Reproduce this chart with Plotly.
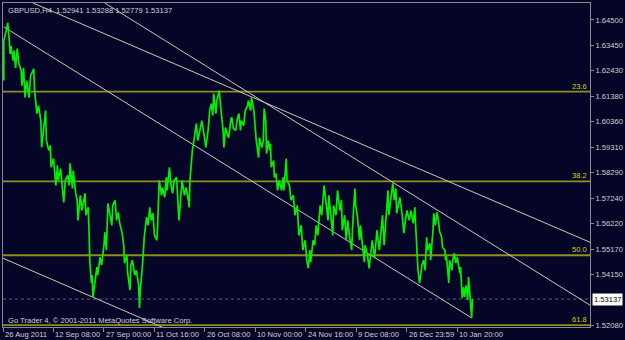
import plotly.graph_objects as go

# ---------------- data ----------------
symbol_title = "GBPUSD,H4  1.52941 1.53288 1.52779 1.53137"
copyright_text = "Go Trader 4, \u00a9 2001-2011 MetaQuotes Software Corp."

# bar index (H4 bars) and price path (highs / lows zig-zag)
bars = [1, 1, 4, 6, 8, 9, 10, 13, 14, 16, 18, 20, 23, 24, 26, 28, 30, 33, 35, 39, 40, 41, 43, 45, 48, 49, 51, 54, 55, 58,
        60, 61, 64, 67, 69, 70, 73, 75, 77, 79, 82, 84, 85, 88, 89, 92, 94, 95, 98, 100, 104, 105, 108, 109, 110, 112, 113, 114, 117, 119,
        120, 123, 125, 128, 129, 131, 133, 136, 138, 139, 142, 144, 146, 148, 151, 153, 154, 157, 158, 161, 162, 164, 167, 169, 172, 173, 174, 177, 179, 182,
        184, 186, 188, 190, 192, 195, 196, 198, 201, 202, 205, 207, 208, 211, 213, 215, 217, 220, 221, 223, 225, 227, 230, 232, 235, 236, 237, 240, 242, 245,
        247, 250, 252, 255, 257, 260, 262, 264, 266, 267, 270, 271, 274, 276, 279, 280, 282, 285, 286, 289, 290, 292, 295, 297, 299, 301, 302, 305, 307, 310,
        311, 314, 315, 318, 320, 321, 324, 325, 328, 330, 331, 333, 334, 336, 338, 339, 340, 343, 344, 346, 348, 350, 353, 355, 356, 359, 360, 363, 365, 368,
        370, 373, 375, 378, 380, 383, 385, 387, 389, 390, 393, 395, 397, 399, 402, 404, 407, 409, 412, 413, 415, 418, 419, 422, 424, 427, 429, 430, 433, 435,
        437, 439, 442, 443, 446, 447, 449, 452, 453, 456, 458, 459, 462, 464, 466, 468, 471, 472, 474, 477, 479, 481, 483, 486, 488, 489, 492, 494, 496, 498,
        499, 502, 503, 506, 508, 510, 512, 515, 517, 520, 522, 523, 525, 526, 528, 531, 533, 535, 537, 538, 541, 542, 545, 546, 548, 550, 552, 553, 556, 557,
        560, 561, 562, 563, 565, 566, 569, 570, 572, 574, 576, 577, 579, 580, 581, 582, 584, 585, 587, 589, 590, 591, 592, 594, 595]
prices = [1.6203, 1.6365, 1.6406, 1.6438, 1.6365, 1.6312, 1.6345, 1.6284, 1.6325, 1.6255, 1.6333, 1.6276, 1.6243, 1.6182, 1.6255, 1.6134, 1.6203, 1.6134, 1.6223, 1.6251,
          1.6162, 1.6122, 1.6069, 1.6101, 1.6040, 1.5931, 1.6000, 1.6081, 1.5959, 1.5919,
          1.5939, 1.5850, 1.5886, 1.5776, 1.5858, 1.5797, 1.5845, 1.5756, 1.5707, 1.5797, 1.5817, 1.5776, 1.5866, 1.5764, 1.5837, 1.5748, 1.5716, 1.5634, 1.5736, 1.5675,
          1.5744, 1.5655, 1.5687, 1.5594, 1.5472, 1.5379, 1.5411, 1.5322, 1.5391, 1.5444,
          1.5411, 1.5484, 1.5452, 1.5533, 1.5586, 1.5513, 1.5703, 1.5647, 1.5614, 1.5695, 1.5716, 1.5634, 1.5667, 1.5622, 1.5582, 1.5533, 1.5460, 1.5492, 1.5419, 1.5350,
          1.5452, 1.5472, 1.5411, 1.5431, 1.5370, 1.5277, 1.5350, 1.5460, 1.5565, 1.5647,
          1.5614, 1.5687, 1.5634, 1.5663, 1.5573, 1.5553, 1.5614, 1.5797, 1.5736, 1.5768, 1.5728, 1.5809, 1.5756, 1.5850, 1.5776, 1.5744, 1.5797, 1.5809, 1.5736, 1.5634,
          1.5716, 1.5797, 1.5736, 1.5768, 1.5716, 1.5687, 1.5797, 1.5919, 1.5959, 1.6028,
          1.5959, 1.6008, 1.6040, 1.5979, 1.5931, 1.6000, 1.6081, 1.6109, 1.6061, 1.6150, 1.6069, 1.6122, 1.6162, 1.6093, 1.6000, 1.5931, 1.6012, 1.5979, 1.5971, 1.6048,
          1.6053, 1.6008, 1.6000, 1.6048, 1.6069, 1.6000, 1.6040, 1.6020, 1.6081, 1.6101,
          1.6122, 1.6081, 1.6134, 1.6081, 1.6012, 1.5959, 1.5890, 1.5971, 1.5931, 1.5959, 1.6089, 1.6040, 1.5906, 1.5959, 1.5919, 1.5947, 1.5850, 1.5878, 1.5809, 1.5825,
          1.5756, 1.5797, 1.5756, 1.5809, 1.5756, 1.5886, 1.5797, 1.5776, 1.5716, 1.5736,
          1.5655, 1.5695, 1.5573, 1.5614, 1.5513, 1.5553, 1.5472, 1.5439, 1.5513, 1.5464, 1.5553, 1.5533, 1.5614, 1.5573, 1.5695, 1.5655, 1.5776, 1.5716, 1.5634, 1.5736,
          1.5675, 1.5573, 1.5695, 1.5655, 1.5756, 1.5675, 1.5716, 1.5594, 1.5655, 1.5553,
          1.5634, 1.5573, 1.5513, 1.5602, 1.5764, 1.5695, 1.5655, 1.5553, 1.5614, 1.5533, 1.5464, 1.5533, 1.5492, 1.5439, 1.5513, 1.5553, 1.5480, 1.5533, 1.5594, 1.5513,
          1.5573, 1.5655, 1.5533, 1.5655, 1.5756, 1.5655, 1.5736, 1.5785, 1.5716, 1.5764,
          1.5663, 1.5716, 1.5728, 1.5655, 1.5582, 1.5634, 1.5675, 1.5634, 1.5675, 1.5622, 1.5687, 1.5614, 1.5472, 1.5431, 1.5379, 1.5452, 1.5472, 1.5431, 1.5565, 1.5513,
          1.5541, 1.5472, 1.5594, 1.5663, 1.5614, 1.5667, 1.5634, 1.5594, 1.5565, 1.5525,
          1.5513, 1.5472, 1.5492, 1.5444, 1.5379, 1.5472, 1.5431, 1.5472, 1.5500, 1.5460, 1.5484, 1.5460, 1.5419, 1.5444, 1.5350, 1.5318, 1.5362, 1.5322, 1.5370, 1.5310,
          1.5403, 1.5338, 1.5322, 1.5237, 1.5314]

current_price = 1.53137

# fibonacci levels
fib_labels = ["23.6", "38.2", "50.0", "61.8"]
fib_prices = [1.6158, 1.5793, 1.5492, 1.5208]

# trend lines: (bar start, price start, bar end, price end)
trend_bar_start = [38, 129, 1, 0]
trend_price_start = [1.6519, 1.6519, 1.6422, 1.5480]
trend_bar_end = [744, 744, 594, 248]
trend_price_end = [1.5545, 1.5289, 1.5237, 1.5135]

# axes ticks
y_tick_vals = [1.64500, 1.63450, 1.62430, 1.61380, 1.60360, 1.59310, 1.58290, 1.57240, 1.56220, 1.55170, 1.54150, 1.52080]
x_tick_bars = [0, 64, 128, 192, 256, 320, 384, 448, 512, 576]
x_tick_labels = ["26 Aug 2011", "12 Sep 08:00", "27 Sep 00:00", "11 Oct 16:00", "26 Oct 08:00",
                 "10 Nov 00:00", "24 Nov 16:00", "9 Dec 08:00", "26 Dec 23:59", "10 Jan 20:00"]

x_range = [0, 744]
y_range = [1.5200, 1.6519]

# ---------------- styling ----------------
BG = "#050528"
FONT = "Liberation Sans, Arial, sans-serif"
FS = 7.6
TXT = "#D0D0D0"

fig = go.Figure()

# fibonacci horizontal lines
for lab, p in zip(fib_labels, fib_prices):
    fig.add_trace(go.Scatter(x=x_range, y=[p, p], mode="lines",
                             line=dict(color="#8E8E1E", width=1.8),
                             hoverinfo="skip", showlegend=False))

# current price line
fig.add_trace(go.Scatter(x=x_range, y=[current_price, current_price], mode="lines",
                         line=dict(color="#5C6274", width=1, dash="dot"),
                         hoverinfo="skip", showlegend=False))

# trend lines
for b0, p0, b1, p1 in zip(trend_bar_start, trend_price_start, trend_bar_end, trend_price_end):
    fig.add_trace(go.Scatter(x=[b0, b1], y=[p0, p1], mode="lines",
                             line=dict(color="#CACAAE", width=1),
                             hoverinfo="skip", showlegend=False))

# price path
fig.add_trace(go.Scatter(x=bars, y=prices, mode="lines",
                         line=dict(color="#00F000", width=1.7),
                         hoverinfo="skip", showlegend=False))

annotations = []
annotations.append(dict(text=symbol_title, xref="paper", yref="paper", x=0, y=1,
                        xanchor="left", yanchor="top", xshift=3, yshift=-1, showarrow=False,
                        font=dict(family=FONT, size=FS, color=TXT)))
annotations.append(dict(text=copyright_text, xref="paper", yref="paper", x=0, y=0,
                        xanchor="left", yanchor="bottom", xshift=3, yshift=0, showarrow=False,
                        font=dict(family=FONT, size=FS, color=TXT)))
for b, lab in zip(x_tick_bars, x_tick_labels):
    annotations.append(dict(text=lab, xref="x", yref="paper", x=b, y=0,
                            xanchor="left", yanchor="top", xshift=0, yshift=-1, showarrow=False,
                            font=dict(family=FONT, size=FS, color=TXT)))
for lab, p in zip(fib_labels, fib_prices):
    annotations.append(dict(text=lab, xref="paper", yref="y", x=1, y=p,
                            xanchor="right", yanchor="bottom", xshift=-1, yshift=-1, showarrow=False,
                            font=dict(family=FONT, size=FS, color="#D4D400")))
annotations.append(dict(text=f"{current_price:.5f}", xref="paper", yref="y", x=1, y=current_price,
                        xanchor="left", yanchor="middle", xshift=2, showarrow=False,
                        bgcolor="#FFFFFF", borderpad=1,
                        font=dict(family=FONT, size=FS, color="#000000")))

fig.update_layout(
    width=625, height=340,
    margin=dict(l=2, r=30, t=2, b=13),
    paper_bgcolor=BG, plot_bgcolor=BG,
    showlegend=False,
    annotations=annotations,
    xaxis=dict(range=x_range, showgrid=False, zeroline=False,
               showline=True, mirror=True, linecolor="#8A8A8A", linewidth=1,
               tickmode="array", tickvals=x_tick_bars, showticklabels=False,
               ticks="outside", ticklen=4, tickcolor="#8A8A8A"),
    yaxis=dict(range=y_range, side="right", showgrid=False, zeroline=False,
               showline=True, mirror=True, linecolor="#8A8A8A", linewidth=1,
               tickmode="array", tickvals=y_tick_vals,
               ticktext=[f"{v:.5f}" for v in y_tick_vals],
               ticks="outside", ticklen=3, tickcolor="#8A8A8A",
               tickfont=dict(family=FONT, size=FS, color=TXT)),
)

fig.write_html("out.html")
